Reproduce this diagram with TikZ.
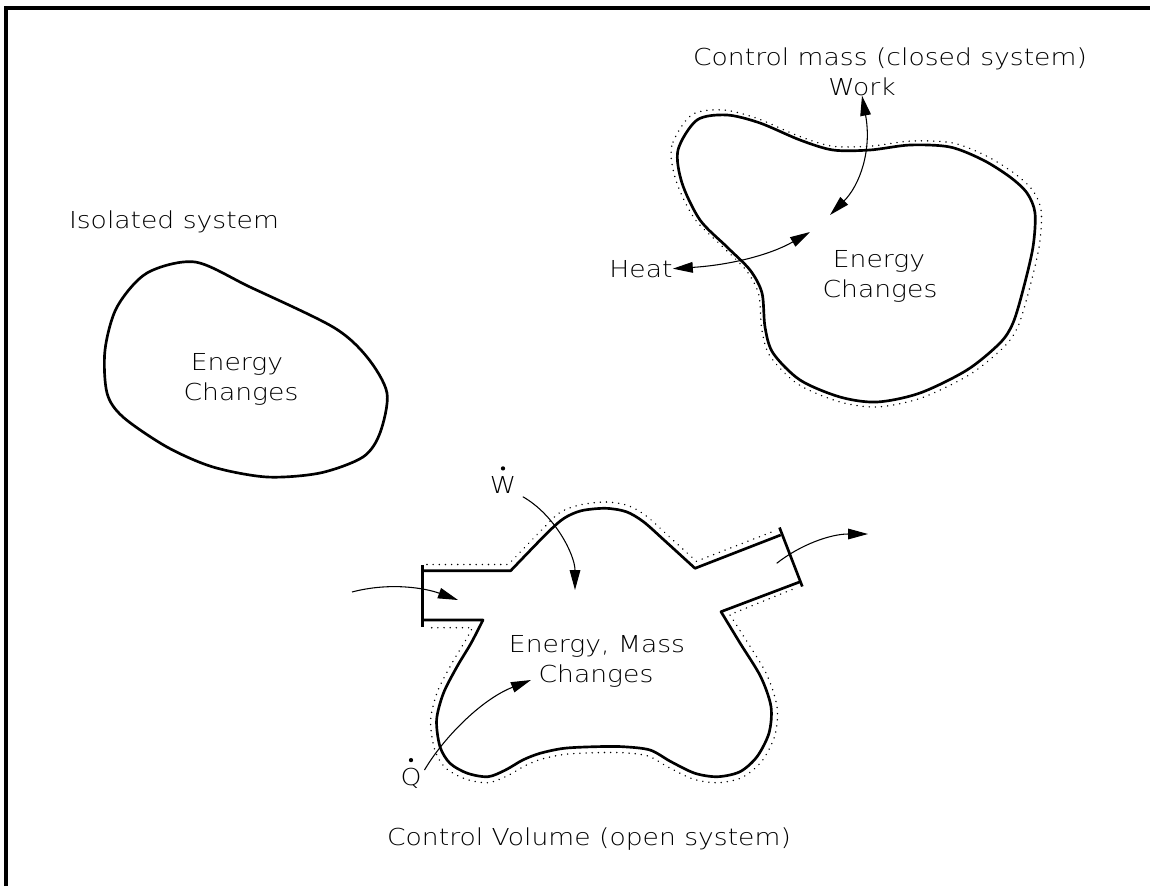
\documentclass[tikz,border=0pt]{standalone}
\usepackage{fontspec}
\setmainfont{DejaVu Sans ExtraLight}
\usetikzlibrary{arrows.meta}
\newcommand\sx[1]{\scalebox{1.14}[1]{#1}}
\begin{document}
\begin{tikzpicture}[x=0.75pt,y=-0.75pt,
  lbl/.style={font=\fontsize{17.5}{20}\selectfont, inner sep=0pt, anchor=base},
  bound/.style={line width=2pt, line join=round},
  dotb/.style={line width=1.2pt, dash pattern=on 0.01pt off 4.6pt, line cap=round},
  flow/.style={line width=0.8pt},
  tipend/.style={-{Triangle[length=15pt,width=8pt]}},
  tipboth/.style={{Triangle[length=15pt,width=8pt]}-{Triangle[length=15pt,width=8pt]}},
  frame/.style={line width=2.3pt},
  ddot/.style={radius=1.6pt}]
\useasboundingbox (0,0) rectangle (1150,886);
% frame
\draw[frame] (6,886) -- (6,8) -- (1150,8);

% ---------- isolated system ----------
\node[lbl] (isot) at (174,228) {\sx{Isolated system}};
\draw[bound] plot[smooth cycle] coordinates {(195,262) (250,287) (333,327) (367,357) (387,393) (380,433) (363,457) (320,473) (267,477) (213,467) (167,447) (123,417) (107,393) (105,350) (117,307) (147,273)};
\node[lbl] (isoe) at (237,370) {\sx{Energy}};
\node[lbl] (isoc) at (241,400) {\sx{Changes}};

% ---------- closed system ----------
\node[lbl] (cmt) at (890,65) {\sx{Control mass (closed system)}};
\node[lbl] (work) at (862,95) {\sx{Work}};
\node[lbl] (heat) at (641,277) {\sx{Heat}};
\def\cmpath{plot[smooth cycle] coordinates {(697,120) (678,150) (682,183) (700,220) (727,247) (750,270) (762,293) (765,327) (773,353) (800,380) (840,397) (877,402) (920,393) (967,370) (1000,343) (1013,323) (1023,290) (1033,247) (1035,213) (1027,193) (1010,177) (983,160) (950,147) (910,145) (870,150) (833,150) (800,140) (760,123) (727,115)}}
\draw[bound] \cmpath;
\draw[dotb, scale around={1.035:(857,260)}] \cmpath;
\node[lbl] (cme) at (879,267) {\sx{Energy}};
\node[lbl] (cmc) at (880,297) {\sx{Changes}};
\coordinate (wc) at (830,215);
\coordinate (hc) at (810,232);
\draw[flow, tipboth] (wc) .. controls (860,185) and (872,150) .. (work.south);
\draw[flow, tipboth] (heat.east) .. controls (730,265) and (770,255) .. (hc);

% ---------- open system ----------
% solid boundary
\draw[bound] (422.8,565) -- (422.8,626.7);
\draw[bound] (422.8,570.7) -- (510.7,570.7) -- plot[smooth] coordinates {(510.7,570.7) (546.9,533.3) (564,518.3) (581.4,510.7) (605.5,508.3) (626.2,511.7) (643.4,521.7) (664,540) (695,568.3)} -- (780.7,535);
\draw[bound] (779.5,527.5) -- (802.3,586.5);
\draw[bound] (800.3,581.7) -- (721,611.7) -- plot[smooth] coordinates {(721,611.7) (740,643) (760.7,676.7) (771,706.7) (769,733) (757,756.7) (740,771.7) (717.6,776.7) (695,773.3) (671,761.7) (650,750) (622.8,746.7) (595,746.7) (564,748.3) (540,753.3) (522.8,760) (505.5,770) (488,776.7) (467.6,773.3) (450,763.3) (440,746.7) (436.6,720) (443.4,693.3) (457,666.7) (471,643.3) (483,620)} -- (422.8,620);
% dotted boundary
\draw[dotb] (427,564.5) -- (508.3,564.5) -- plot[smooth] coordinates {(508.3,564.5) (542.5,529) (560,512.5) (579.5,505) (605.5,502) (628,505.5) (647,516.5) (668,535.5) (696.3,561.3)} -- (775,530.7);
\draw[dotb] (792,589.5) -- (729.8,614.7) -- plot[smooth] coordinates {(729.8,614.7) (746,640) (766.5,674) (777,706.7) (775,735) (762,761) (742,777.5) (717.6,782.7) (693,779) (668,767) (648,756) (622.8,752.7) (595,752.7) (565,754.3) (542,759) (525.5,765.5) (508,775.5) (488,782.7) (465.5,779) (445,767.5) (434.5,749) (430.6,720) (437.5,691.5) (451.5,664) (465.5,640.5) (472.5,627.7)} -- (427,627.7);
% labels
\node[lbl] (wdot) at (503,493) {\sx{W}};
\fill[ddot] ([yshift=5.5pt]wdot.north) circle;
\node[lbl] (qdot) at (411,785) {\sx{Q}};
\fill[ddot] ([yshift=5.5pt]qdot.north) circle;
\node[lbl] (cve) at (597,652) {\sx{Energy, Mass}};
\node[lbl] (cvc) at (596,682) {\sx{Changes}};
\node[lbl] (cvt) at (589,845) {\sx{Control Volume (open system)}};
% flows
\coordinate (win) at (575,590);
\coordinate (inA) at (352,592);
\coordinate (inB) at (458,600);
\coordinate (outA) at (776.7,563.3);
\coordinate (outB) at (868,534);
\coordinate (qin) at (531,680);
\draw[flow, tipend] (522.8,496.7) .. controls (555,515) and (575,555) .. (win);
\draw[flow, tipend] (inA) .. controls (390,582) and (425,588) .. (inB);
\draw[flow, tipend] (outA) .. controls (800,545) and (830,534) .. (outB);
\draw[flow, tipend] (424.5,770) .. controls (442,740) and (480,700) .. (qin);
\end{tikzpicture}
\end{document}
